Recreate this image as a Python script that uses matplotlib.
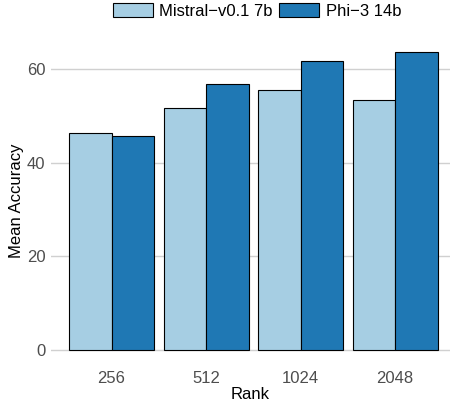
import matplotlib
matplotlib.use("Agg")
import matplotlib.pyplot as plt
import numpy as np

plt.rcParams['font.family'] = ['Liberation Sans', 'DejaVu Sans']

ranks = ["256", "512", "1024", "2048"]
mistral = [46.4, 51.7, 55.5, 53.3]
phi = [45.8, 56.9, 61.8, 63.6]
series_names = ["Mistral\u2212v0.1 7b", "Phi\u22123 14b"]
colors = ["#A6CEE3", "#1F78B4"]

W, H = 451, 407
fig = plt.figure(figsize=(W / 100, H / 100), dpi=100)
ax = fig.add_axes([51 / W, (H - 365) / H, (450 - 51) / W, (365 - 37.3) / H])

x = np.arange(len(ranks))
bw = 0.45
b1 = ax.bar(x - bw / 2, mistral, width=bw, color=colors[0], edgecolor="black", linewidth=0.8, label=series_names[0], zorder=3)
b2 = ax.bar(x + bw / 2, phi, width=bw, color=colors[1], edgecolor="black", linewidth=0.8, label=series_names[1], zorder=3)

ymax = max(max(mistral), max(phi))
ax.set_ylim(-0.05 * ymax, 1.05 * ymax)
ax.set_xlim(-0.64, 3.58)
ax.set_xticks(x)
ax.set_xticklabels(ranks)
ax.set_yticks([0, 20, 40, 60])
ax.tick_params(axis="both", length=0, labelsize=12, labelcolor="#4D4D4D")
ax.tick_params(axis="x", pad=4)
ax.tick_params(axis="y", pad=4)
ax.grid(axis="y", color="#D0D0D0", linewidth=1.0, zorder=0)
ax.set_axisbelow(True)
for s in ax.spines.values():
    s.set_visible(False)
ax.set_xlabel("Rank", fontsize=12, labelpad=1)
ax.set_ylabel("Mean Accuracy", fontsize=12, labelpad=2)

fig.legend(handles=[b1, b2], labels=series_names, loc="upper center",
           bbox_to_anchor=(257 / W, 1.0), ncol=2, frameon=False, fontsize=12,
           handlelength=2.4, handleheight=1.0, handletextpad=0.4, columnspacing=0.4,
           borderaxespad=0.0, borderpad=0.15)

fig.savefig("out.png", dpi=100)
